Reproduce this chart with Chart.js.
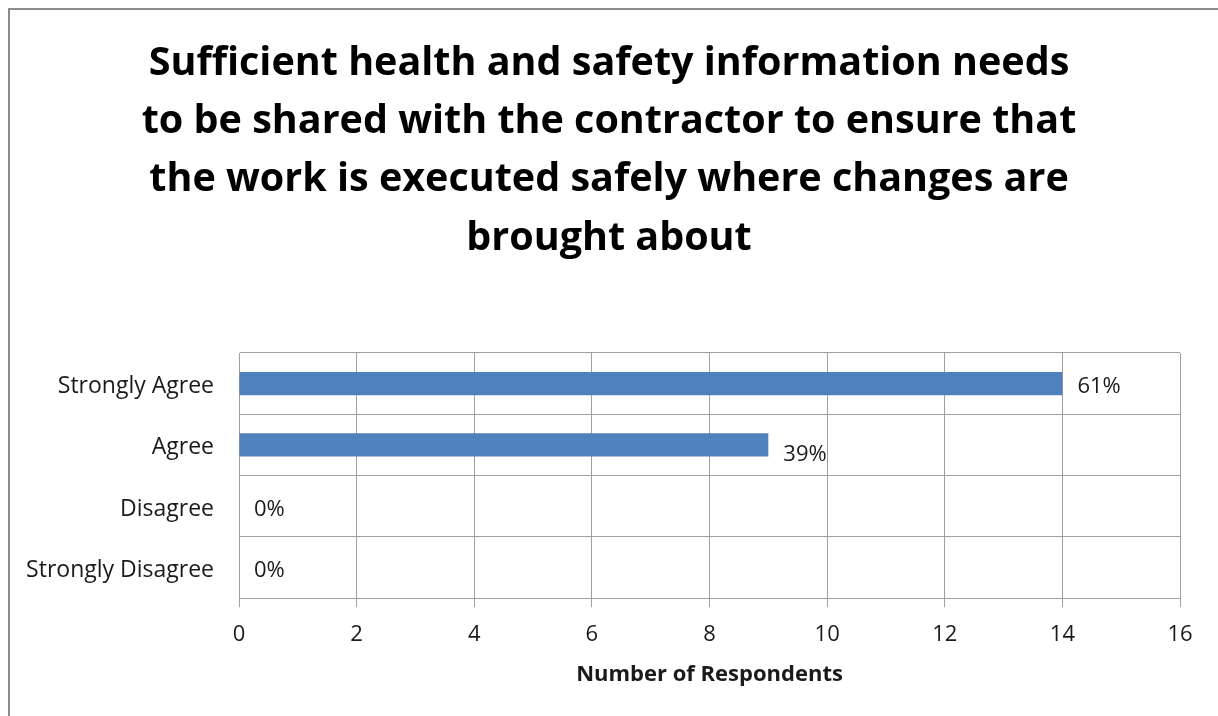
<!DOCTYPE html>
<html>
<head>
<meta charset="utf-8">
<script src="https://cdn.jsdelivr.net/npm/chart.js@4/dist/chart.umd.min.js"></script>
<style>
  body { margin: 0; background: #fff; }
  #wrap { position: relative; width: 1218px; height: 716px; }
  #frame { position: absolute; left: 8px; top: 8px; right: 0; bottom: 0; border-left: 2px solid #8c8c8c; border-top: 2px solid #8c8c8c; pointer-events: none; }
</style>
</head>
<body>
<div id="wrap">
  <canvas id="chart" width="1218" height="716"></canvas>
  <div id="frame"></div>
</div>
<script>
const titleLines = [
    'Sufficient health and safety information needs',
    'to be shared with the contractor to ensure that',
    'the work is executed safely where changes are',
    'brought about'
];
const categories = ['Strongly Agree', 'Agree', 'Disagree', 'Strongly Disagree'];
const respondents = [14, 9, 0, 0];
const xTitle = 'Number of Respondents';

const total = respondents.reduce((a, b) => a + b, 0);
const labelDy = [3, 10, 3, 3]; // excel puts the 2nd label a bit low

const FONT = '"Open Sans", Lato, sans-serif';
const textCol = '#1a1a1a';
const gridCol = '#a0a0a0';

// title centred on the whole canvas (the plot area is not centred)
const bigTitle = {
    id: 'bigTitle',
    afterDraw(chart) {
        const ctx = chart.ctx;
        ctx.save();
        ctx.font = 'bold 39.5px ' + FONT;
        ctx.fillStyle = '#000';
        ctx.textAlign = 'center';
        ctx.textBaseline = 'middle';
        titleLines.forEach((line, i) => {
            ctx.fillText(line, chart.width / 2, 63.5 + i * 58.3);
        });
        ctx.restore();
    }
};

const pctLabels = {
    id: 'pctLabels',
    afterDatasetsDraw(chart) {
        const ctx = chart.ctx;
        const meta = chart.getDatasetMeta(0);
        ctx.save();
        ctx.font = '22px ' + FONT;
        ctx.fillStyle = textCol;
        ctx.textAlign = 'left';
        ctx.textBaseline = 'middle';
        meta.data.forEach((bar, i) => {
            const pct = Math.round(respondents[i] / total * 100) + '%';
            ctx.fillText(pct, bar.x + 15, bar.y + labelDy[i]);
        });
        ctx.restore();
    }
};

new Chart(document.getElementById('chart').getContext('2d'), {
    type: 'bar',
    data: {
        labels: categories,
        datasets: [{
            data: respondents,
            backgroundColor: '#4f81bd',
            borderWidth: 0,
            categoryPercentage: 1,
            barPercentage: 0.38
        }]
    },
    options: {
        indexAxis: 'y',
        responsive: false,
        animation: false,
        layout: { padding: { left: 0, right: 38, top: 353, bottom: 0 } },
        plugins: {
            legend: { display: false },
            tooltip: { enabled: false },
            title: { display: false }
        },
        scales: {
            x: {
                min: 0,
                max: 16,
                ticks: { stepSize: 2, color: textCol, font: { family: FONT, size: 22 }, padding: 14 },
                grid: { color: gridCol, tickLength: 9, tickColor: gridCol },
                border: { color: gridCol },
                title: {
                    display: true,
                    text: xTitle,
                    color: textCol,
                    font: { family: FONT, size: 22, weight: 'bold' },
                    padding: { top: 0, bottom: 28 }
                }
            },
            y: {
                afterFit(scale) { scale.width = 239; },
                ticks: { color: textCol, font: { family: FONT, size: 23 }, padding: 25, labelOffset: 3 },
                grid: { color: gridCol, drawTicks: false },
                border: { color: gridCol }
            }
        }
    },
    plugins: [pctLabels, bigTitle]
});
</script>
</body>
</html>
